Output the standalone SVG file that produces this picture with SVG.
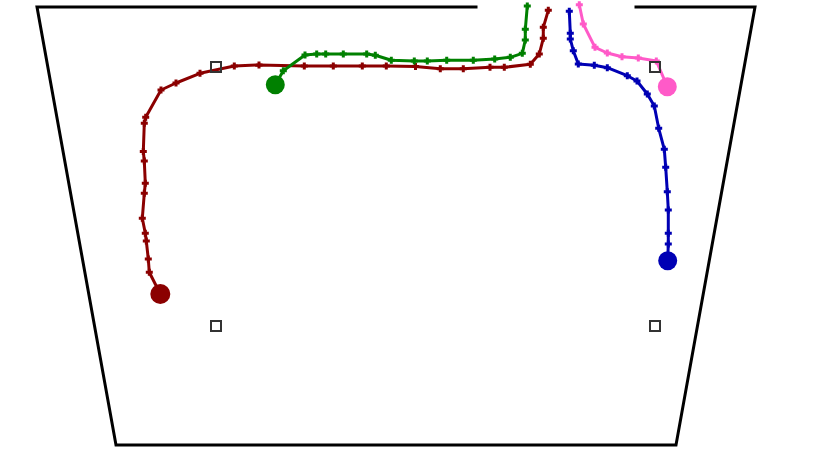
<svg xmlns="http://www.w3.org/2000/svg" width="817" height="460" viewBox="0 0 817 460">
<style>
.frame{fill:none;stroke:#000;stroke-width:3;stroke-linecap:square}
.trk{fill:none;stroke-width:3;stroke-linejoin:round;stroke-linecap:round}
.sq{fill:none;stroke:#333;stroke-width:2}
</style>
<defs>
<marker id="mr" viewBox="-4 -4 8 8" markerWidth="8" markerHeight="8" markerUnits="userSpaceOnUse" refX="0" refY="0" overflow="visible"><path d="M-3.5,-1.5 h2 v-2 h3 v2 h2 v3 h-2 v2 h-3 v-2 h-2 z" fill="#8b0000"/></marker>
<marker id="mg" viewBox="-4 -4 8 8" markerWidth="8" markerHeight="8" markerUnits="userSpaceOnUse" refX="0" refY="0" overflow="visible"><path d="M-3.5,-1.5 h2 v-2 h3 v2 h2 v3 h-2 v2 h-3 v-2 h-2 z" fill="#008000"/></marker>
<marker id="mb" viewBox="-4 -4 8 8" markerWidth="8" markerHeight="8" markerUnits="userSpaceOnUse" refX="0" refY="0" overflow="visible"><path d="M-3.5,-1.5 h2 v-2 h3 v2 h2 v3 h-2 v2 h-3 v-2 h-2 z" fill="#0000b4"/></marker>
<marker id="mp" viewBox="-4 -4 8 8" markerWidth="8" markerHeight="8" markerUnits="userSpaceOnUse" refX="0" refY="0" overflow="visible"><path d="M-3.5,-1.5 h2 v-2 h3 v2 h2 v3 h-2 v2 h-3 v-2 h-2 z" fill="#ff5ac8"/></marker>
</defs>
<g id="room">
<polyline class="frame" points="476,7 37,7 116,445 676,445 755,7 636,7"/>
</g>
<g id="red-track">
<polyline class="trk" stroke="#8b0000" marker-start="url(#mr)" marker-mid="url(#mr)" points="548.3,10.3 543.3,27.3 543.3,38.3 539.3,54 530.3,64.3 504.3,67.3 490,67.3 463.3,68.7 440.3,68.7 415.5,66.5 386.3,66 362.3,66 333.3,66 304.3,66 259,65 234.3,66 200,73.3 176,83 161,90 145.7,117.3 144.3,123.3 143.3,151.5 144.3,161 145.3,183.3 144.3,193.3 142.3,218.3 145.3,233.3 146.3,241 148.3,259 149.3,272.3 160.3,294"/>
<circle cx="160.3" cy="294" r="10" fill="#8b0000"/>
</g>
<g id="green-track">
<polyline class="trk" stroke="#008000" marker-start="url(#mg)" marker-mid="url(#mg)" points="527.3,6 525.3,29.3 525.3,40 522.3,53.3 510.3,57.3 494.7,59 473.3,60.3 446.7,60.3 427.3,61 414.3,61 391.3,60.3 375.3,55.3 366.7,54 343.3,54 325.7,54 316.7,54 305,55 283.3,70.7 275.3,84.7"/>
<circle cx="275.3" cy="84.7" r="9.5" fill="#008000"/>
</g>
<g id="blue-track">
<polyline class="trk" stroke="#0000b4" marker-start="url(#mb)" marker-mid="url(#mb)" points="569.3,11.3 570.3,33.3 570.3,39 573.3,50.7 578.3,64 594.3,65.3 607.3,67.7 627.3,75.7 637,81 647.3,94 654.3,106 658.7,128.3 664.3,149.3 665.7,167.3 667.3,191.7 668.3,210 668.3,233.3 668.3,244 667.7,260.7"/>
<circle cx="667.7" cy="260.7" r="9.5" fill="#0000b4"/>
</g>
<g id="pink-track">
<polyline class="trk" stroke="#ff5ac8" marker-start="url(#mp)" marker-mid="url(#mp)" points="579.3,4.7 583.3,24 595,47.3 607.3,53 622,56.7 638.3,58 656.3,61 667.3,86.7"/>
<circle cx="667.3" cy="86.7" r="9.5" fill="#ff5ac8"/>
</g>
<g id="anchors">
<rect class="sq" x="211" y="62" width="10" height="10"/>
<rect class="sq" x="650" y="62" width="10" height="10"/>
<rect class="sq" x="211" y="321" width="10" height="10"/>
<rect class="sq" x="650" y="321" width="10" height="10"/>
</g>
</svg>
